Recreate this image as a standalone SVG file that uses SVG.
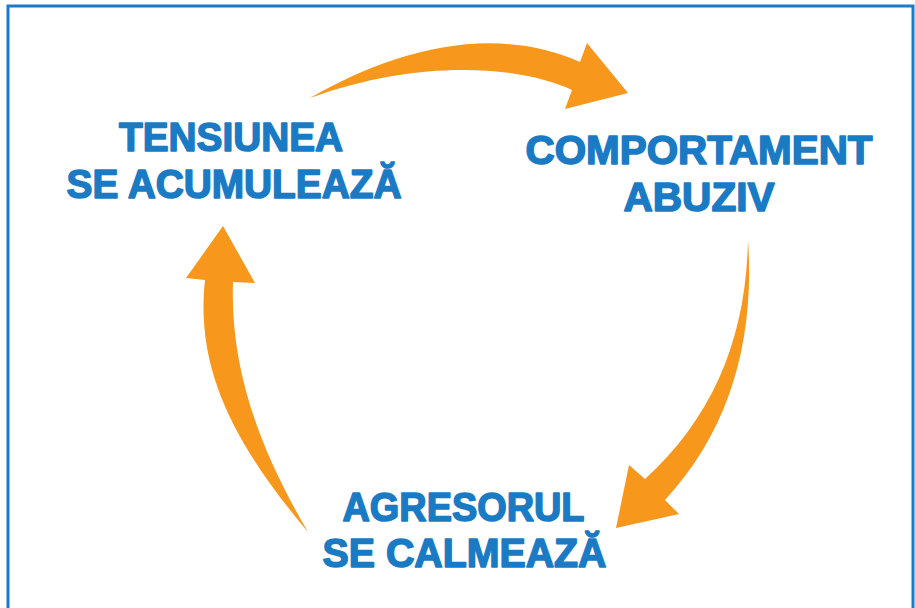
<svg xmlns="http://www.w3.org/2000/svg" width="915" height="608" viewBox="0 0 915 608">
<style>
.lbl{font-family:"Liberation Sans",Arial,sans-serif;font-weight:bold;font-size:41px;fill:#1a7bc4;stroke:#1a7bc4;stroke-width:1.6;stroke-linejoin:round;text-anchor:middle}
.arr{fill:#f7981d}
</style>
<rect x="0" y="0" width="915" height="608" fill="#ffffff"/>
<rect x="8" y="6" width="905" height="700" fill="none" stroke="#1a7bc9" stroke-width="3"/>
<g id="connectors">
<path class="arr" d="M310,98 C390,52 490,22 580,62 L587,43 L628,93 L565,109 L572,90 C520,66 420,58 310,98 Z"/>
<path class="arr" d="M748,240 C755,340 730,430 665,500 L679,514 L616,528 L629,465 L645,479 C712,418 746,340 748,240 Z"/>
<path class="arr" d="M308,532 C235,445 195,370 205,280 L186,278 L223,226 L255,283 L233,282 C230,370 260,450 308,532 Z"/>
</g>
<g id="node-tension">
<text class="lbl" x="231" y="151" textLength="224" lengthAdjust="spacingAndGlyphs">TENSIUNEA</text>
<text class="lbl" x="234" y="198" textLength="335" lengthAdjust="spacingAndGlyphs">SE ACUMULEAZĂ</text>
</g>
<g id="node-abuse">
<text class="lbl" x="699" y="164" textLength="347" lengthAdjust="spacingAndGlyphs">COMPORTAMENT</text>
<text class="lbl" x="699" y="211" textLength="151" lengthAdjust="spacingAndGlyphs">ABUZIV</text>
</g>
<g id="node-calm">
<text class="lbl" x="463.5" y="521" textLength="242" lengthAdjust="spacingAndGlyphs">AGRESORUL</text>
<text class="lbl" x="464.5" y="567" textLength="284" lengthAdjust="spacingAndGlyphs">SE CALMEAZĂ</text>
</g>
</svg>
